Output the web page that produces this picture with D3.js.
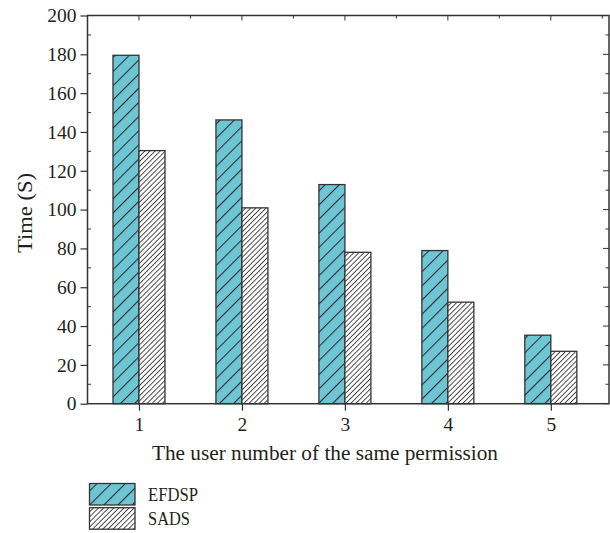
<!DOCTYPE html>
<html><head><meta charset="utf-8">
<script src="https://cdn.jsdelivr.net/npm/d3@7"></script>
<style>body{margin:0;background:#fff}svg{display:block}text{font-family:"Liberation Serif","DejaVu Serif",serif;fill:#231f20}</style>
</head><body><svg id="c" width="610" height="533"></svg>
<script>
const categories = [1, 2, 3, 4, 5];
const efdsp = [179.5, 146.2, 112.9, 78.9, 35.3];
const sads = [130.4, 100.9, 78.0, 52.3, 27.0];
const yTicks = [0, 20, 40, 60, 80, 100, 120, 140, 160, 180, 200];
const seriesNames = ["EFDSP", "SADS"];

const svg = d3.select("#c");
const L = 87.5, R = 609, T = 15.5, B = 403.7;
const x = d3.scaleLinear().domain([0.5, 5.565]).range([L, R]);
const y = d3.scaleLinear().domain([0, 200]).range([B, T]);
const barW = 26;
const ink = "#333";

const defs = svg.append("defs");
const p1 = defs.append("pattern").attr("id","hatchA").attr("patternUnits","userSpaceOnUse")
  .attr("width",10).attr("height",10).attr("patternTransform","rotate(45)");
p1.append("rect").attr("width",10).attr("height",10).attr("fill","#6ec6d4");
p1.append("line").attr("x1",0).attr("y1",0).attr("x2",0).attr("y2",10).attr("stroke","#2b2f33").attr("stroke-width",2.2);
const p2 = defs.append("pattern").attr("id","hatchB").attr("patternUnits","userSpaceOnUse")
  .attr("width",3.6).attr("height",10).attr("patternTransform","rotate(45)");
p2.append("rect").attr("width",3.6).attr("height",10).attr("fill","#fff");
p2.append("line").attr("x1",0).attr("y1",0).attr("x2",0).attr("y2",10).attr("stroke","#333").attr("stroke-width",1.7);

const fills = ["url(#hatchA)", "url(#hatchB)"];
const data = [efdsp, sads];

data.forEach((vals, si) => {
  svg.append("g").selectAll("rect").data(categories).join("rect")
    .attr("x", (c) => x(c) + (si === 0 ? -barW : 0))
    .attr("y", (c, i) => y(vals[i]))
    .attr("width", barW)
    .attr("height", (c, i) => y(0) - y(vals[i]))
    .attr("fill", fills[si])
    .attr("stroke", ink).attr("stroke-width", 1.3);
});

// frame
svg.append("rect").attr("x",L).attr("y",T).attr("width",R-L).attr("height",B-T)
  .attr("fill","none").attr("stroke",ink).attr("stroke-width",1.5);

// left axis
const yAxis = d3.axisLeft(y).tickValues(yTicks).tickSize(7).tickPadding(4);
const gy = svg.append("g").attr("transform",`translate(${L},0)`).call(yAxis);
gy.select(".domain").remove();
gy.selectAll("line").attr("stroke",ink).attr("stroke-width",1.2);
gy.selectAll("text").style("font-size","19.5px").attr("fill","#231f20").attr("font-family",null);
// minor ticks left/right
const minor = d3.range(10, 200, 20);
svg.append("g").selectAll("line").data(minor).join("line")
  .attr("x1",L).attr("x2",L+3.5).attr("y1",d=>y(d)).attr("y2",d=>y(d)).attr("stroke",ink).attr("stroke-width",1);
svg.append("g").selectAll("line").data(yTicks.concat(minor)).join("line")
  .attr("x1",R).attr("x2",d=>R-(d%20===0?6:3.5)).attr("y1",d=>y(d)).attr("y2",d=>y(d)).attr("stroke",ink).attr("stroke-width",1);

// bottom axis
const xAxis = d3.axisBottom(x).tickValues(categories).tickSize(7).tickPadding(6).tickFormat(d3.format("d"));
const gx = svg.append("g").attr("transform",`translate(0,${B})`).call(xAxis);
gx.select(".domain").remove();
gx.selectAll("line").attr("stroke",ink).attr("stroke-width",1.2);
gx.selectAll("text").style("font-size","19.5px").attr("fill","#231f20").attr("font-family",null);
// top ticks
const halfTicks = d3.range(1, 5.6, 0.5);
svg.append("g").selectAll("line").data(halfTicks).join("line")
  .attr("x1",d=>x(d)).attr("x2",d=>x(d)).attr("y1",T).attr("y2",d=>T+(Number.isInteger(d)?5:3))
  .attr("stroke",ink).attr("stroke-width",1);

// axis titles
svg.append("text").attr("x", 325).attr("y", 460).attr("text-anchor","middle")
  .style("font-size","20px").attr("textLength",346).attr("lengthAdjust","spacingAndGlyphs")
  .text("The user number of the same permission");
svg.append("text").attr("transform","translate(32,213) rotate(-90)").attr("text-anchor","middle")
  .style("font-size","20px").attr("textLength",80).attr("lengthAdjust","spacingAndGlyphs").text("Time (S)");

// legend
const lg = svg.append("g");
const lw = [50, 42];
seriesNames.forEach((n, i) => {
  const yy = 483.5 + i * 24.2;
  lg.append("rect").attr("x",89.5).attr("y",yy).attr("width",45.5).attr("height",21.5)
    .attr("fill",fills[i]).attr("stroke",ink).attr("stroke-width",1.3);
  lg.append("text").attr("x",148).attr("y",yy+17).style("font-size","19px")
    .attr("textLength",lw[i]).attr("lengthAdjust","spacingAndGlyphs").text(n);
});
</script></body></html>
